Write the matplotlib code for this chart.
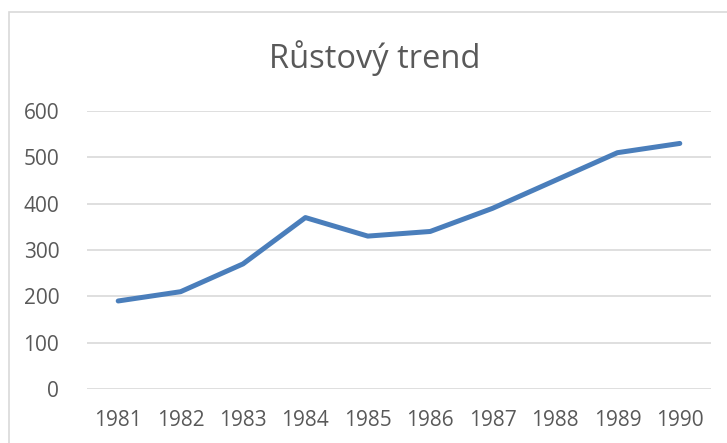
import matplotlib.pyplot as plt
from matplotlib.patches import Rectangle

# Data
years = ["1981", "1982", "1983", "1984", "1985", "1986", "1987", "1988", "1989", "1990"]
values = [190, 210, 270, 370, 330, 340, 390, 450, 510, 530]
y_ticks = [0, 100, 200, 300, 400, 500, 600]

text_color = "#595959"
grid_color = "#D9D9D9"
line_color = "#4A7EBB"

plt.rcParams['font.family'] = ['Open Sans', 'DejaVu Sans']

fig = plt.figure(figsize=(7.27, 4.43), dpi=100)
W, H = 727, 443

# chart frame (cut off on right and bottom)
fig.patches.append(Rectangle((8.5 / W, -0.1), 1.2, 1.1 - 12.5 / H,
                             transform=fig.transFigure, fill=False,
                             edgecolor=grid_color, linewidth=1.2))

ax = fig.add_axes([87 / W, (H - 389) / H, (711 - 87) / W, (389 - 111) / H])

x = list(range(len(years)))
ax.plot(x, values, color=line_color, linewidth=3.6, solid_capstyle='round',
        solid_joinstyle='round', zorder=3)

ax.set_xlim(-0.5, len(years) - 0.5)
ax.set_ylim(0, 600)
ax.set_yticks(y_ticks)
ax.set_xticks(x)
ax.set_xticklabels(years)
ax.yaxis.grid(True, color=grid_color, linewidth=1.2)
ax.set_axisbelow(True)

for s in ax.spines.values():
    s.set_visible(False)
ax.tick_params(axis='both', length=0, labelsize=15, colors=text_color)
ax.tick_params(axis='y', pad=20)
ax.tick_params(axis='x', pad=15)

fig.text(0.515, (H - 58) / H, "Růstový trend", ha='center', va='center',
         fontsize=23.5, color=text_color)

fig.savefig("out.png", dpi=100)
